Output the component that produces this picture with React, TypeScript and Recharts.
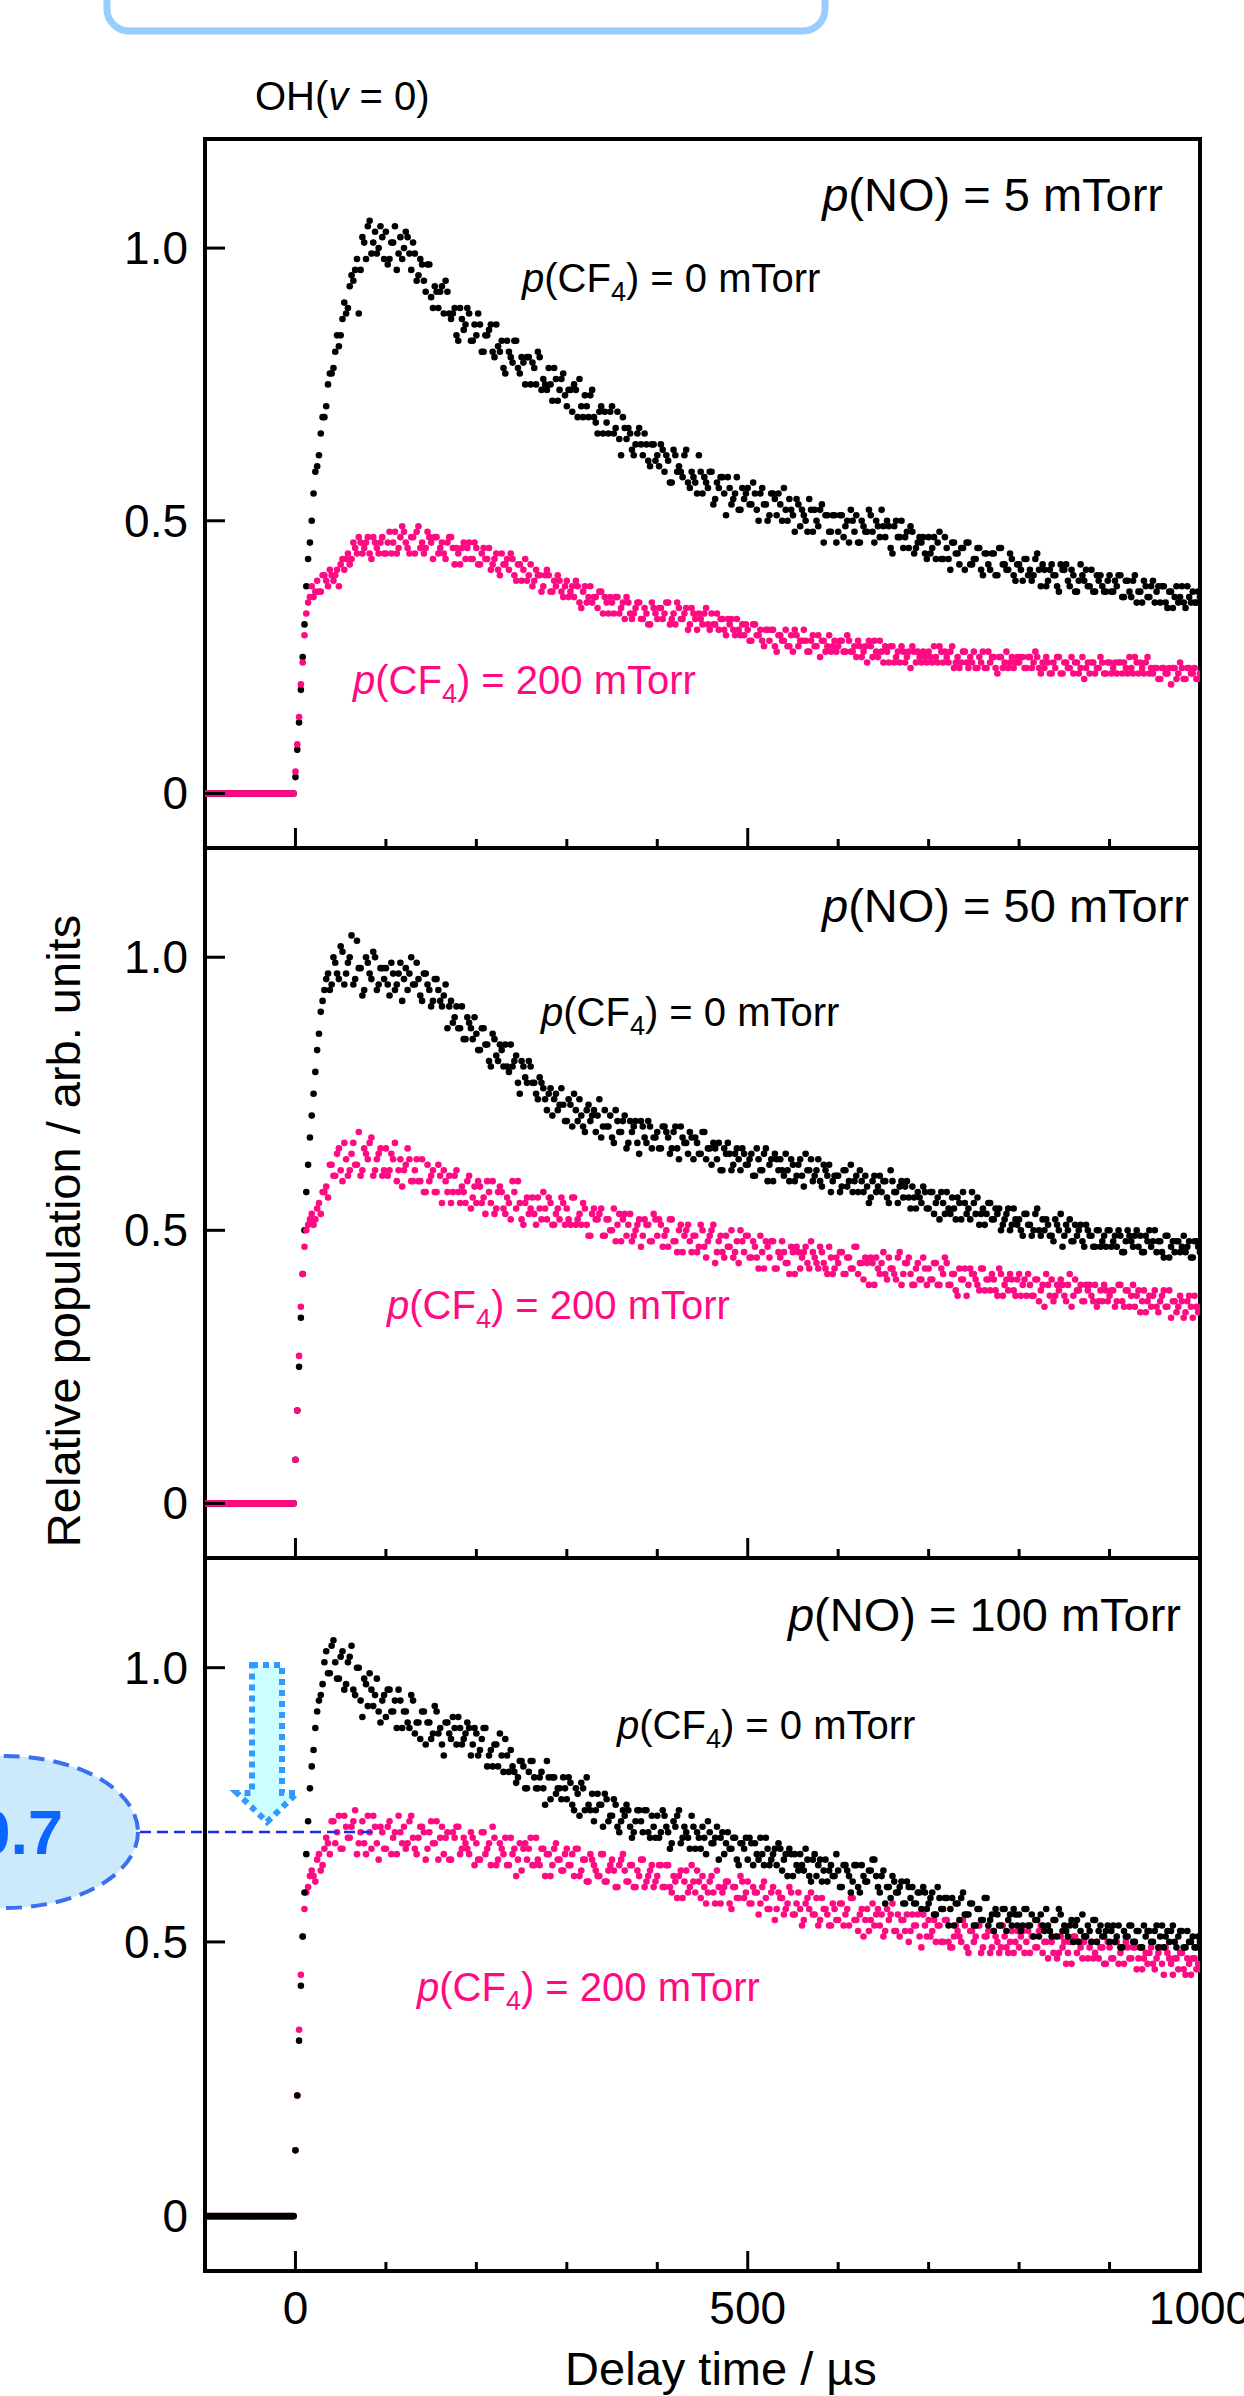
import React from 'react';
import { ScatterChart, Scatter, XAxis, YAxis } from 'recharts';

const FONT = '"Liberation Sans", Arial, Helvetica, sans-serif';
const BLACK = '#000000';
const PINK = '#ff0a82';

const T_START = -100;
const T_STEP = 4;
const T_OFFSET_B = 2;

// signal before the photolysis pulse (25 samples up to t = 0)
const PRE_TRIGGER = [0, 0, 0, 0, 0, 0, 0, 0, 0, 0, 0, 0, 0, 0, 0, 0, 0, 0, 0, 0, 0, 0, 0, 0, 0];

// relative population x100; set A at t = 0, 4 … 1000 µs (one row = 100 µs)
const NO5_CF4_0 = [
  3, 13, 25, 38, 46, 55, 60, 66, 69, 75, 77, 81, 82, 87, 88, 93, 94, 98, 96, 101, 104, 99, 103, 100, 102,
  103, 98, 101, 96, 102, 100, 102, 96, 99, 95, 97, 92, 97, 89, 92, 92, 88, 92, 87, 89, 83, 87, 86, 88, 83,
  84, 86, 81, 84, 86, 80, 82, 83, 77, 81, 79, 83, 77, 79, 80, 75, 78, 81, 74, 75, 78, 72, 76, 74, 77,
  71, 74, 75, 69, 71, 73, 69, 74, 68, 70, 66, 68, 70, 66, 70, 62, 67, 67, 63, 64, 67, 62, 64, 60, 64,
  62, 64, 59, 61, 57, 62, 60, 58, 63, 56, 58, 55, 59, 58, 56, 59, 54, 56, 58, 51, 56, 54, 58, 52, 54,
  56, 53, 55, 50, 56, 53, 51, 55, 51, 53, 56, 50, 52, 48, 53, 52, 50, 54, 48, 50, 52, 46, 51, 48, 51,
  48, 51, 49, 46, 50, 51, 46, 49, 48, 51, 46, 49, 52, 47, 49, 44, 50, 47, 45, 48, 49, 44, 46, 46, 44,
  47, 45, 43, 48, 43, 45, 41, 46, 44, 45, 41, 46, 42, 43, 45, 40, 44, 41, 44, 40, 45, 42, 41, 43, 39,
  42, 39, 43, 41, 40, 44, 38, 41, 39, 42, 40, 37, 41, 42, 38, 40, 37, 42, 39, 38, 41, 37, 39, 38, 37,
  40, 37, 38, 40, 36, 39, 36, 40, 37, 35, 38, 36, 39, 37, 35, 38, 34, 37, 36, 35, 38, 34, 36, 37, 35,
  36,
];
// set B at t = 2, 6 … 998 µs
const NO5_CF4_0_B = [
  8, 19, 31, 43, 50, 59, 62, 69, 71, 77, 78, 84, 84, 90, 89, 95, 96, 88, 102, 98, 105, 101, 99, 104, 98,
  97, 101, 104, 99, 98, 103, 99, 101, 94, 98, 94, 97, 91, 93, 89, 93, 94, 88, 88, 84, 89, 85, 89, 83, 86,
  88, 81, 84, 85, 81, 86, 81, 78, 83, 80, 83, 78, 80, 75, 80, 79, 75, 80, 76, 74, 75, 78, 72, 76, 73,
  74, 70, 74, 76, 69, 71, 73, 69, 66, 71, 70, 66, 71, 67, 65, 69, 65, 66, 62, 66, 64, 66, 61, 64, 61,
  60, 63, 62, 57, 63, 59, 59, 62, 57, 59, 57, 62, 55, 57, 59, 53, 57, 58, 55, 58, 53, 55, 52, 56, 55,
  53, 57, 52, 55, 53, 50, 55, 54, 55, 50, 52, 54, 51, 54, 49, 51, 48, 52, 52, 49, 53, 51, 48, 51, 46,
  51, 47, 50, 52, 48, 46, 50, 48, 52, 48, 50, 47, 49, 50, 45, 49, 47, 50, 47, 45, 48, 45, 47, 47, 43,
  44, 47, 46, 43, 47, 43, 46, 44, 42, 45, 46, 42, 43, 45, 41, 44, 42, 44, 40, 45, 42, 41, 44, 40, 42,
  41, 43, 40, 39, 43, 41, 42, 38, 41, 40, 38, 42, 41, 39, 41, 37, 39, 40, 41, 38, 37, 40, 40, 37, 39,
  37, 39, 40, 36, 39, 37, 39, 35, 37, 39, 36, 38, 35, 38, 38, 35, 37, 34, 38, 36, 35, 38, 35, 35, 37,
];
const NO5_CF4_200 = [
  4, 14, 24, 33, 36, 36, 39, 37, 40, 38, 40, 40, 38, 43, 43, 42, 46, 44, 46, 45, 47, 43, 46, 44, 47,
  44, 48, 46, 44, 47, 48, 45, 47, 44, 49, 46, 45, 47, 43, 47, 45, 44, 46, 47, 42, 44, 45, 43, 46, 43,
  45, 42, 45, 43, 41, 43, 41, 44, 42, 41, 43, 39, 42, 41, 39, 42, 39, 40, 37, 40, 40, 37, 38, 39, 36,
  39, 37, 36, 38, 34, 38, 36, 35, 36, 37, 33, 35, 36, 33, 36, 34, 32, 35, 32, 34, 35, 32, 33, 31, 34,
  32, 34, 33, 35, 32, 31, 34, 32, 34, 31, 33, 30, 32, 33, 31, 33, 31, 30, 32, 29, 31, 30, 32, 29, 29,
  30, 28, 31, 29, 28, 30, 28, 30, 26, 29, 28, 27, 29, 30, 27, 28, 28, 26, 29, 27, 25, 28, 27, 26, 28,
  27, 28, 26, 28, 26, 25, 27, 26, 24, 27, 28, 25, 26, 27, 24, 27, 25, 24, 26, 25, 23, 26, 26, 24, 25,
  26, 24, 25, 27, 24, 25, 26, 23, 25, 24, 26, 23, 24, 23, 25, 26, 23, 24, 25, 22, 25, 24, 23, 25, 24,
  24, 25, 23, 25, 24, 25, 22, 23, 24, 22, 23, 25, 22, 24, 23, 22, 24, 23, 21, 24, 24, 22, 23, 24, 22,
  24, 23, 22, 24, 24, 22, 23, 25, 22, 23, 24, 22, 22, 23, 21, 23, 22, 20, 23, 22, 23, 21, 23, 22, 21,
  22,
];
const NO5_CF4_200_B = [
  9, 20, 29, 35, 38, 37, 37, 40, 39, 41, 39, 41, 42, 41, 44, 43, 45, 47, 44, 46, 44, 47, 45, 46, 44,
  46, 44, 48, 45, 49, 46, 44, 47, 48, 45, 44, 48, 46, 47, 44, 46, 43, 47, 45, 45, 42, 46, 45, 43, 46,
  42, 44, 43, 45, 42, 44, 40, 42, 43, 44, 40, 42, 39, 43, 40, 38, 41, 40, 38, 41, 37, 39, 40, 37, 38,
  36, 38, 39, 35, 37, 35, 38, 36, 34, 37, 36, 33, 35, 36, 33, 35, 36, 33, 33, 35, 32, 34, 31, 35, 33,
  34, 32, 35, 31, 33, 35, 32, 33, 30, 34, 32, 33, 31, 34, 30, 31, 33, 32, 30, 32, 32, 29, 30, 31, 31,
  28, 31, 29, 30, 27, 30, 30, 27, 29, 28, 30, 27, 26, 29, 28, 30, 26, 28, 27, 29, 28, 26, 29, 27, 26,
  28, 26, 29, 26, 27, 28, 25, 27, 28, 25, 26, 28, 24, 26, 27, 24, 26, 27, 24, 26, 27, 24, 25, 26, 24,
  25, 27, 24, 26, 26, 24, 27, 24, 23, 26, 24, 25, 26, 23, 24, 23, 26, 25, 23, 25, 23, 26, 24, 23, 25,
  25, 23, 25, 23, 26, 23, 24, 25, 22, 24, 25, 22, 24, 23, 25, 24, 22, 25, 23, 22, 24, 23, 25, 22, 24,
  22, 24, 24, 22, 23, 25, 22, 24, 24, 22, 25, 23, 23, 21, 23, 22, 23, 23, 21, 24, 21, 23, 22, 23, 21,
];
const NO50_CF4_0 = [
  8, 25, 42, 57, 67, 75, 83, 90, 94, 97, 95, 99, 96, 101, 97, 100, 95, 103, 98, 94, 99, 96, 100, 95, 98,
  98, 93, 97, 95, 99, 96, 94, 100, 95, 96, 92, 97, 94, 92, 96, 92, 93, 87, 92, 89, 87, 91, 85, 88, 85,
  86, 83, 87, 84, 80, 85, 81, 83, 84, 79, 80, 82, 75, 80, 77, 80, 77, 74, 77, 74, 75, 71, 75, 73, 73,
  70, 73, 75, 70, 71, 68, 73, 71, 68, 74, 69, 69, 71, 66, 70, 68, 71, 66, 68, 70, 64, 69, 66, 69, 67,
  68, 65, 69, 67, 65, 69, 63, 67, 66, 68, 63, 66, 64, 68, 65, 62, 65, 66, 61, 64, 64, 62, 65, 61, 64,
  62, 64, 60, 63, 61, 65, 62, 59, 63, 63, 60, 61, 63, 59, 62, 60, 64, 61, 59, 61, 59, 62, 60, 57, 60,
  60, 58, 61, 59, 57, 60, 61, 57, 58, 56, 60, 58, 57, 59, 55, 59, 57, 58, 56, 59, 54, 56, 57, 55, 57,
  54, 57, 55, 52, 55, 57, 53, 54, 56, 52, 55, 54, 57, 53, 51, 54, 53, 55, 52, 53, 50, 52, 54, 51, 52,
  52, 49, 53, 51, 50, 54, 49, 50, 51, 49, 52, 50, 47, 51, 52, 48, 49, 51, 47, 50, 49, 47, 50, 48, 47,
  50, 48, 47, 49, 46, 50, 48, 49, 47, 46, 49, 50, 48, 46, 48, 45, 49, 47, 46, 48, 47, 46, 48, 45, 48,
  46,
];
const NO50_CF4_0_B = [
  17, 34, 50, 62, 71, 79, 86, 92, 96, 94, 100, 97, 102, 95, 99, 104, 96, 98, 93, 100, 97, 101, 94, 98, 96,
  95, 99, 94, 97, 92, 98, 97, 95, 99, 93, 97, 95, 91, 96, 94, 91, 95, 91, 88, 91, 87, 85, 89, 87, 89,
  83, 87, 84, 81, 86, 82, 84, 80, 80, 84, 81, 77, 81, 78, 81, 77, 75, 78, 76, 72, 76, 74, 72, 76, 70,
  74, 69, 72, 74, 69, 72, 70, 72, 71, 67, 72, 69, 67, 72, 68, 70, 65, 70, 69, 66, 70, 67, 70, 65, 67,
  65, 69, 68, 64, 68, 65, 69, 66, 64, 67, 67, 64, 68, 63, 65, 66, 63, 61, 65, 66, 61, 64, 63, 65, 62,
  63, 60, 65, 61, 64, 59, 63, 64, 61, 61, 64, 59, 62, 60, 63, 58, 61, 63, 60, 63, 58, 61, 62, 59, 60,
  57, 61, 58, 62, 59, 57, 59, 60, 55, 59, 57, 60, 59, 56, 61, 57, 55, 59, 58, 56, 58, 54, 56, 58, 54,
  57, 53, 56, 57, 53, 54, 56, 52, 55, 57, 53, 52, 55, 56, 53, 51, 55, 52, 54, 54, 51, 53, 50, 54, 51,
  50, 53, 51, 49, 53, 50, 52, 52, 49, 48, 51, 53, 49, 50, 48, 51, 50, 48, 51, 49, 47, 50, 47, 49, 50,
  47, 49, 50, 46, 48, 49, 47, 50, 49, 46, 48, 47, 50, 48, 46, 49, 45, 48, 48, 46, 49, 47, 45, 48, 47,
];
const NO50_CF4_200 = [
  8, 27, 42, 50, 52, 51, 54, 53, 57, 56, 62, 60, 65, 59, 63, 61, 66, 62, 60, 65, 63, 67, 61, 64, 60,
  65, 61, 63, 59, 63, 61, 65, 59, 61, 59, 63, 57, 59, 61, 57, 60, 61, 57, 55, 60, 57, 58, 55, 60, 56,
  55, 58, 56, 59, 55, 53, 57, 57, 53, 55, 59, 54, 55, 51, 56, 54, 53, 56, 52, 54, 56, 51, 53, 52, 55,
  54, 51, 56, 52, 51, 54, 49, 53, 52, 53, 49, 52, 50, 54, 51, 48, 53, 51, 48, 50, 52, 49, 51, 48, 53,
  49, 51, 49, 47, 52, 48, 50, 46, 50, 48, 49, 46, 51, 47, 48, 50, 44, 48, 46, 49, 47, 45, 48, 50, 46,
  49, 45, 47, 43, 46, 48, 45, 48, 43, 45, 46, 44, 47, 42, 46, 45, 47, 43, 46, 44, 47, 44, 42, 45, 43,
  44, 46, 42, 45, 43, 47, 44, 41, 44, 45, 40, 43, 44, 42, 45, 43, 41, 46, 42, 44, 42, 40, 44, 41, 43,
  43, 41, 44, 40, 42, 44, 40, 42, 38, 41, 43, 40, 42, 41, 39, 43, 41, 39, 41, 38, 42, 40, 39, 41, 38,
  42, 40, 38, 40, 38, 41, 39, 36, 40, 41, 38, 39, 40, 37, 42, 38, 39, 40, 37, 39, 38, 40, 37, 37, 39,
  38, 39, 37, 40, 36, 39, 38, 36, 39, 37, 35, 38, 38, 36, 37, 39, 36, 34, 37, 36, 37, 35, 38, 34, 36,
  36,
];
const NO50_CF4_200_B = [
  17, 36, 47, 51, 53, 52, 55, 57, 58, 62, 60, 64, 61, 66, 60, 64, 62, 68, 61, 64, 66, 60, 63, 65, 61,
  60, 64, 66, 61, 58, 62, 63, 59, 63, 59, 57, 62, 60, 57, 62, 55, 59, 60, 57, 61, 55, 57, 59, 54, 58,
  59, 55, 53, 57, 59, 54, 58, 54, 56, 52, 57, 59, 52, 55, 53, 56, 51, 54, 57, 52, 55, 51, 54, 56, 51,
  52, 56, 51, 53, 55, 51, 49, 54, 52, 54, 49, 52, 50, 48, 53, 52, 49, 53, 49, 51, 47, 52, 51, 48, 52,
  52, 47, 50, 52, 48, 46, 51, 49, 51, 46, 49, 47, 50, 45, 49, 51, 46, 49, 45, 47, 50, 46, 44, 48, 49,
  45, 48, 45, 49, 43, 47, 48, 43, 46, 48, 44, 42, 46, 47, 43, 46, 44, 48, 45, 43, 46, 43, 47, 42, 45,
  46, 42, 45, 43, 47, 42, 44, 45, 40, 44, 45, 42, 46, 41, 43, 42, 45, 40, 44, 45, 40, 43, 41, 45, 40,
  41, 44, 40, 43, 45, 40, 42, 39, 43, 41, 38, 43, 42, 40, 43, 39, 41, 42, 39, 43, 38, 41, 42, 39, 41,
  38, 41, 42, 38, 41, 37, 40, 42, 38, 37, 40, 41, 38, 40, 36, 41, 39, 37, 40, 40, 37, 36, 39, 40, 37,
  39, 36, 40, 37, 39, 36, 40, 38, 35, 39, 37, 36, 39, 35, 38, 36, 39, 37, 35, 38, 34, 37, 36, 38, 35,
];
const NO100_CF4_0 = [
  12, 32, 51, 66, 78, 85, 92, 95, 101, 99, 104, 101, 98, 103, 97, 102, 96, 100, 94, 98, 93, 96, 95, 92, 94,
  91, 96, 92, 89, 94, 92, 90, 95, 88, 90, 92, 86, 90, 88, 92, 89, 84, 90, 87, 89, 91, 86, 88, 89, 86,
  88, 85, 89, 82, 85, 86, 82, 84, 87, 81, 82, 79, 83, 82, 78, 83, 80, 78, 81, 75, 80, 80, 77, 78, 80,
  76, 79, 74, 77, 79, 74, 75, 77, 74, 75, 71, 76, 73, 76, 71, 72, 73, 74, 69, 72, 74, 70, 74, 69, 71,
  73, 70, 73, 70, 68, 71, 74, 69, 70, 67, 71, 70, 67, 69, 72, 68, 69, 65, 70, 68, 67, 69, 65, 68, 67,
  65, 68, 68, 65, 66, 69, 64, 66, 64, 67, 65, 62, 66, 66, 63, 64, 67, 62, 65, 62, 65, 63, 61, 64, 62,
  63, 60, 64, 62, 61, 64, 59, 62, 61, 63, 65, 60, 62, 57, 60, 62, 59, 60, 57, 61, 58, 57, 59, 56, 59,
  57, 59, 55, 58, 56, 58, 56, 53, 57, 58, 55, 55, 57, 53, 56, 54, 58, 54, 52, 55, 53, 56, 54, 53, 55,
  55, 53, 56, 53, 51, 54, 55, 52, 53, 51, 54, 56, 52, 52, 53, 50, 54, 52, 51, 53, 50, 54, 52, 51, 52,
  50, 53, 51, 49, 52, 51, 53, 50, 52, 49, 51, 52, 50, 53, 51, 49, 52, 52, 50, 51, 52, 49, 50, 51, 49,
  50,
];
const NO100_CF4_0_B = [
  22, 42, 59, 72, 82, 89, 94, 97, 103, 99, 105, 98, 102, 96, 101, 104, 95, 100, 91, 97, 99, 93, 98, 90, 95,
  96, 92, 94, 96, 89, 92, 89, 94, 90, 87, 92, 90, 87, 93, 88, 86, 90, 88, 91, 86, 89, 87, 90, 84, 89,
  84, 87, 89, 84, 82, 86, 88, 81, 84, 85, 81, 80, 83, 78, 81, 83, 78, 80, 78, 83, 76, 80, 78, 76, 78,
  80, 75, 78, 73, 78, 80, 74, 72, 77, 75, 77, 72, 73, 75, 70, 74, 75, 71, 70, 74, 72, 74, 70, 73, 69,
  69, 74, 71, 67, 72, 73, 68, 71, 69, 73, 67, 69, 71, 66, 70, 68, 71, 69, 66, 70, 67, 69, 64, 68, 69,
  69, 64, 66, 69, 64, 67, 65, 67, 68, 63, 66, 67, 62, 64, 66, 63, 65, 61, 66, 64, 61, 65, 63, 62, 66,
  60, 64, 63, 59, 64, 60, 64, 61, 63, 65, 62, 59, 63, 60, 58, 61, 59, 61, 57, 60, 60, 57, 59, 60, 56,
  58, 55, 60, 56, 58, 53, 58, 57, 54, 59, 55, 57, 53, 56, 54, 58, 53, 55, 56, 53, 56, 52, 55, 56, 53,
  52, 56, 53, 55, 54, 51, 53, 56, 52, 54, 51, 55, 53, 51, 54, 53, 50, 55, 51, 52, 54, 50, 53, 51, 53,
  52, 50, 53, 49, 51, 53, 50, 52, 49, 53, 52, 50, 52, 49, 53, 51, 50, 53, 49, 52, 49, 52, 50, 49, 51,
];
const NO100_CF4_200 = [
  12, 34, 51, 59, 62, 62, 65, 63, 67, 68, 72, 68, 73, 67, 71, 69, 72, 66, 70, 68, 73, 67, 71, 65, 70,
  67, 72, 69, 66, 70, 71, 68, 73, 67, 69, 71, 65, 70, 68, 72, 69, 66, 70, 65, 69, 71, 67, 68, 66, 69,
  68, 65, 70, 67, 64, 69, 65, 67, 69, 64, 66, 62, 68, 67, 65, 69, 64, 65, 67, 62, 66, 64, 68, 65, 63,
  67, 64, 62, 67, 63, 65, 61, 65, 63, 62, 66, 61, 64, 63, 60, 65, 63, 61, 64, 60, 62, 65, 61, 63, 60,
  62, 64, 60, 64, 59, 61, 62, 58, 63, 60, 61, 63, 58, 60, 59, 62, 57, 60, 59, 61, 57, 60, 58, 62, 58,
  61, 57, 59, 55, 60, 58, 56, 60, 56, 58, 55, 57, 59, 55, 59, 53, 57, 56, 55, 58, 54, 56, 55, 53, 56,
  54, 57, 55, 53, 58, 54, 55, 51, 56, 54, 53, 56, 55, 52, 54, 57, 52, 51, 54, 55, 52, 53, 55, 49, 53,
  54, 52, 50, 53, 50, 54, 49, 51, 52, 50, 53, 48, 52, 51, 53, 49, 51, 48, 52, 50, 49, 51, 48, 52, 50,
  49, 52, 50, 48, 51, 49, 53, 50, 47, 50, 51, 48, 49, 46, 50, 51, 48, 49, 50, 47, 50, 48, 47, 49, 46,
  49, 47, 50, 48, 46, 49, 47, 49, 47, 45, 48, 48, 46, 47, 49, 44, 48, 46, 47, 45, 48, 44, 46, 47, 45,
  45,
];
const NO100_CF4_200_B = [
  22, 44, 56, 60, 63, 61, 66, 64, 69, 66, 72, 70, 67, 73, 69, 71, 74, 68, 72, 66, 70, 73, 68, 71, 67,
  71, 66, 70, 73, 68, 67, 72, 69, 66, 71, 70, 67, 72, 68, 65, 71, 69, 65, 70, 71, 66, 69, 67, 70, 64,
  65, 70, 66, 68, 71, 64, 68, 66, 64, 69, 67, 65, 63, 68, 67, 64, 69, 64, 67, 66, 62, 67, 65, 63, 66,
  64, 66, 67, 62, 65, 61, 66, 64, 62, 66, 61, 63, 65, 60, 64, 66, 61, 64, 60, 63, 65, 60, 62, 64, 61,
  64, 60, 64, 60, 62, 58, 63, 61, 59, 64, 59, 61, 62, 57, 61, 59, 63, 57, 60, 61, 56, 60, 58, 61, 59,
  57, 60, 59, 57, 61, 56, 59, 54, 59, 58, 56, 60, 55, 57, 56, 54, 58, 59, 55, 53, 58, 56, 53, 57, 54,
  57, 53, 56, 58, 54, 52, 56, 54, 52, 57, 55, 53, 51, 56, 55, 52, 55, 54, 52, 50, 55, 53, 51, 55, 51,
  51, 54, 53, 50, 54, 50, 49, 53, 51, 54, 49, 52, 50, 53, 48, 51, 52, 49, 51, 48, 53, 49, 50, 48, 52,
  51, 48, 52, 51, 49, 52, 48, 50, 52, 48, 47, 51, 50, 48, 46, 51, 50, 47, 51, 49, 47, 50, 49, 46, 50,
  47, 50, 46, 49, 50, 47, 49, 45, 49, 47, 46, 49, 45, 48, 46, 49, 47, 44, 47, 48, 45, 47, 44, 47, 46,
];

const NO_PRESSURES = ['5', '50', '100'];
const CF4_PRESSURES = ['0', '200'];
const X_TICKS = [0, 100, 200, 300, 400, 500, 600, 700, 800, 900, 1000];
const Y_TICKS = [0, 0.5, 1];
const X_DOMAIN: [number, number] = [-100, 1000];
const Y_DOMAIN: [number, number] = [-0.1, 1.2];

const toPoints = (a: number[], b: number[]) => [
  ...[...PRE_TRIGGER, ...a].map((v, i) => ({ t: T_START + i * T_STEP, y: v / 100 })),
  ...[...PRE_TRIGGER, ...b].map((v, i) => ({ t: T_START + T_OFFSET_B + i * T_STEP, y: v / 100 })),
];

const PANELS = [
  {
    no: NO_PRESSURES[0], black: [NO5_CF4_0, NO5_CF4_0_B], pink: [NO5_CF4_200, NO5_CF4_200_B],
    top: 139, bottom: 848, pinkOnTop: true, topTicks: false, xLabels: false,
    noPos: [1163, 211], blackPos: [522, 292], pinkPos: [353, 694],
  },
  {
    no: NO_PRESSURES[1], black: [NO50_CF4_0, NO50_CF4_0_B], pink: [NO50_CF4_200, NO50_CF4_200_B],
    top: 848, bottom: 1558, pinkOnTop: true, topTicks: true, xLabels: false,
    noPos: [1189, 922], blackPos: [541, 1026], pinkPos: [387, 1319],
  },
  {
    no: NO_PRESSURES[2], black: [NO100_CF4_0, NO100_CF4_0_B], pink: [NO100_CF4_200, NO100_CF4_200_B],
    top: 1558, bottom: 2271, pinkOnTop: false, topTicks: true, xLabels: true,
    noPos: [1181, 1631], blackPos: [617, 1739], pinkPos: [417, 2001],
  },
];

const AXIS_LINE = { stroke: BLACK, strokeWidth: 4, strokeLinecap: 'square' as const };

const bottomTick = (showLabels: boolean) => (props: any) => {
  const { x, y, payload } = props;
  const v = payload.value;
  const major = v % 500 === 0;
  return (
    <g>
      <line x1={x} x2={x} y1={y} y2={y - (major ? 20 : 9)} stroke={BLACK} strokeWidth={3} />
      {showLabels && major && (
        <text x={x} y={y + 53} textAnchor="middle" fontSize={46} fontFamily={FONT} fill={BLACK}>
          {v}
        </text>
      )}
    </g>
  );
};

const topTick = (props: any) => {
  const { x, y, payload } = props;
  const major = payload.value % 500 === 0;
  return <line x1={x} x2={x} y1={y} y2={y + (major ? 20 : 9)} stroke={BLACK} strokeWidth={3} />;
};

const leftTick = (props: any) => {
  const { x, y, payload } = props;
  const v = payload.value;
  return (
    <g>
      <line x1={x} x2={x + 20} y1={y} y2={y} stroke={BLACK} strokeWidth={3} />
      <text x={x - 17} y={y} dy={16} textAnchor="end" fontSize={46} fontFamily={FONT} fill={BLACK}>
        {v === 0 ? '0' : v.toFixed(1)}
      </text>
    </g>
  );
};

const dot = (color: string) => (p: any) => <circle cx={p.cx} cy={p.cy} r={3.3} fill={color} />;

function Panel({ cfg }: { cfg: (typeof PANELS)[number] }) {
  const mb = cfg.xLabels ? 125 : 9;
  const height = 10 + (cfg.bottom - cfg.top) + 1 + mb;
  const series = [
    <Scatter key="b" data={toPoints(cfg.black[0], cfg.black[1])} shape={dot(BLACK)} isAnimationActive={false} />,
    <Scatter key="p" data={toPoints(cfg.pink[0], cfg.pink[1])} shape={dot(PINK)} isAnimationActive={false} />,
  ];
  if (!cfg.pinkOnTop) series.reverse();
  return (
    <div style={{ position: 'absolute', left: 0, top: cfg.top - 10 }}>
      <ScatterChart width={1244} height={height} margin={{ top: 9, right: 43, bottom: mb, left: 0 }}>
        <XAxis
          dataKey="t" type="number" domain={X_DOMAIN} ticks={X_TICKS} interval={0} allowDataOverflow
          height={1} tickSize={0} tickMargin={0} tickLine={false} axisLine={AXIS_LINE}
          tick={bottomTick(cfg.xLabels)}
        />
        <XAxis
          xAxisId="top" orientation="top" type="number" domain={X_DOMAIN} ticks={X_TICKS} interval={0}
          height={1} tickSize={0} tickMargin={0} tickLine={false} axisLine={AXIS_LINE}
          tick={cfg.topTicks ? topTick : false}
        />
        <YAxis
          dataKey="y" type="number" domain={Y_DOMAIN} ticks={Y_TICKS} interval={0} allowDataOverflow
          width={205} tickSize={0} tickMargin={0} tickLine={false} axisLine={AXIS_LINE} tick={leftTick}
        />
        <YAxis
          yAxisId="right" orientation="right" type="number" domain={Y_DOMAIN} width={1}
          tick={false} tickLine={false} axisLine={AXIS_LINE}
        />
        {series}
      </ScatterChart>
    </div>
  );
}

const Cf4Label = ({ x, y, value, color }: { x: number; y: number; value: string; color: string }) => (
  <text x={x} y={y} fontSize={40} fill={color}>
    <tspan fontStyle="italic">p</tspan>(CF<tspan fontSize={27} dy={9}>4</tspan>
    <tspan dy={-9}>) = {value} mTorr</tspan>
  </text>
);

export default function App() {
  return (
    <div
      style={{
        position: 'absolute', left: 0, top: 0, width: 1244, height: 2396,
        overflow: 'hidden', background: '#ffffff', fontFamily: FONT,
      }}
    >
      {PANELS.map((p) => (
        <Panel key={p.no} cfg={p} />
      ))}
      <svg
        width={1244} height={2396} fontFamily={FONT}
        style={{ position: 'absolute', left: 0, top: 0, pointerEvents: 'none' }}
      >
        <rect x={107} y={-60} width={718} height={91} rx={22} fill="none" stroke="#99ccff" strokeWidth={7} />
        <text x={255} y={110} fontSize={40}>
          OH(<tspan fontStyle="italic">v</tspan> = 0)
        </text>

        {PANELS.map((p) => (
          <g key={p.no}>
            <text x={p.noPos[0]} y={p.noPos[1]} fontSize={47} textAnchor="end">
              <tspan fontStyle="italic">p</tspan>(NO) = {p.no} mTorr
            </text>
            <Cf4Label x={p.blackPos[0]} y={p.blackPos[1]} value={CF4_PRESSURES[0]} color={BLACK} />
            <Cf4Label x={p.pinkPos[0]} y={p.pinkPos[1]} value={CF4_PRESSURES[1]} color={PINK} />
          </g>
        ))}

        <text transform="rotate(-90)" x={-1231} y={80} textAnchor="middle" fontSize={47}>
          Relative population / arb. units
        </text>
        <text x={721} y={2385} textAnchor="middle" fontSize={47}>
          Delay time / µs
        </text>

        {/* 0.7 annotation on the 100 mTorr panel */}
        <ellipse cx={5} cy={1832} rx={133} ry={76} fill="#cdeafc" stroke="#3a6ff0" strokeWidth={4} strokeDasharray="16 9" />
        <text x={63} y={1854} textAnchor="end" fontSize={63} fontWeight="bold" fill="#0a66ff">
          0.7
        </text>
        <line x1={140} x2={377} y1={1832} y2={1832} stroke="#1530e8" strokeWidth={2.5} strokeDasharray="11 6" />
        <polygon
          points="252,1665 282,1665 282,1793 297,1793 267,1822 237,1793 252,1793"
          fill="#ccffff" stroke="#3399ff" strokeWidth={6} strokeDasharray="6 5"
        />
      </svg>
    </div>
  );
}
